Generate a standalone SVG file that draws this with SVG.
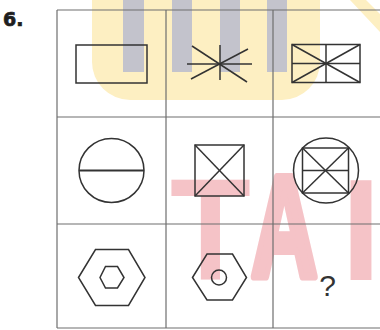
<svg xmlns="http://www.w3.org/2000/svg" width="380" height="330" viewBox="0 0 380 330">
<style>
.g{stroke:#6e6e6e;stroke-width:1.2;fill:none}
.s{stroke:#333;stroke-width:1.5;fill:none}
.t{font-family:"DejaVu Sans",sans-serif;font-weight:bold;fill:#1e1e1e;stroke:#1e1e1e;stroke-width:0.7}
.w{font-family:"Liberation Sans",sans-serif;font-weight:bold;font-size:144px;fill:#f5c3c7}
</style>
<rect width="380" height="330" fill="#fff"/>
<g id="watermark">
<path d="M92,0 H320 V62 A38,38 0 0 1 282,100 H130 A38,38 0 0 1 92,62 Z" fill="#fdefc2"/>
<polygon points="350,0 366,0 380,14 380,32" fill="#fdefc2"/>
<rect x="123" y="0" width="21" height="72" fill="#c3c3cc"/>
<rect x="172" y="0" width="20" height="72" fill="#c3c3cc"/>
<rect x="220" y="0" width="20" height="72" fill="#c3c3cc"/>
<rect x="267" y="0" width="20" height="72" fill="#c3c3cc"/>
<text class="w" transform="translate(170,280) scale(0.92,1)" x="0" y="0">T</text>
<text class="w" transform="translate(251,276) scale(0.64,1)" x="0" y="0" font-size="134" stroke="#f5c3c7" stroke-width="8" stroke-linejoin="round">A</text>
<text class="w" x="341" y="280">I</text>
</g>
<g id="grid" class="g">
<line x1="57" y1="10" x2="380" y2="10"/>
<line x1="57" y1="117" x2="380" y2="117"/>
<line x1="57" y1="224" x2="380" y2="224"/>
<line x1="57" y1="328" x2="380" y2="328"/>
<line x1="57" y1="10" x2="57" y2="328"/>
<line x1="166" y1="10" x2="166" y2="328"/>
<line x1="273" y1="10" x2="273" y2="328"/>
</g>
<text id="label" class="t" x="3" y="26" font-size="19">6.</text>
<g id="r1c1" class="s"><rect x="76" y="45" width="71" height="38"/></g>
<g id="r1c2" class="s">
<line x1="187" y1="64" x2="252" y2="64"/>
<line x1="220" y1="45" x2="220" y2="80"/>
<line x1="191" y1="79" x2="248" y2="49"/>
<line x1="192" y1="46" x2="247" y2="82"/>
</g>
<g id="r1c3" class="s">
<rect x="292" y="44.5" width="68" height="38"/>
<line x1="326" y1="44.5" x2="326" y2="82.5"/>
<line x1="292" y1="63.5" x2="360" y2="63.5"/>
<line x1="292" y1="44.5" x2="360" y2="82.5"/>
<line x1="292" y1="82.5" x2="360" y2="44.5"/>
</g>
<g id="r2c1" class="s">
<ellipse cx="111.5" cy="170.5" rx="32.5" ry="32"/>
<line x1="79" y1="170.5" x2="144" y2="170.5" stroke-width="2.2"/>
</g>
<g id="r2c2" class="s">
<rect x="195" y="145" width="49" height="51"/>
<line x1="195" y1="145" x2="244" y2="196"/>
<line x1="195" y1="196" x2="244" y2="145"/>
</g>
<g id="r2c3" class="s">
<ellipse cx="326" cy="170.5" rx="32.5" ry="32.5"/>
<rect x="302.5" y="148" width="46" height="45"/>
<line x1="302.5" y1="170.5" x2="348.5" y2="170.5"/>
<line x1="302.5" y1="148" x2="348.5" y2="193"/>
<line x1="302.5" y1="193" x2="348.5" y2="148"/>
</g>
<g id="r3c1" class="s">
<polygon points="78.5,277.5 95.5,249.5 128.5,249.5 145,277.5 128.5,305.5 95.5,305.5"/>
<polygon points="100,277.5 105.5,266.5 117.5,266.5 124,277.5 117.5,288 105.5,288"/>
</g>
<g id="r3c2" class="s">
<polygon points="192.5,277.5 207,254 232.5,254 246.5,277.5 232.5,300 207,300"/>
<circle cx="219" cy="277.5" r="7.5"/>
</g>
<text id="r3c3" x="327.5" y="296" text-anchor="middle" font-family="Liberation Sans, sans-serif" font-size="30" fill="#333">?</text>
</svg>
